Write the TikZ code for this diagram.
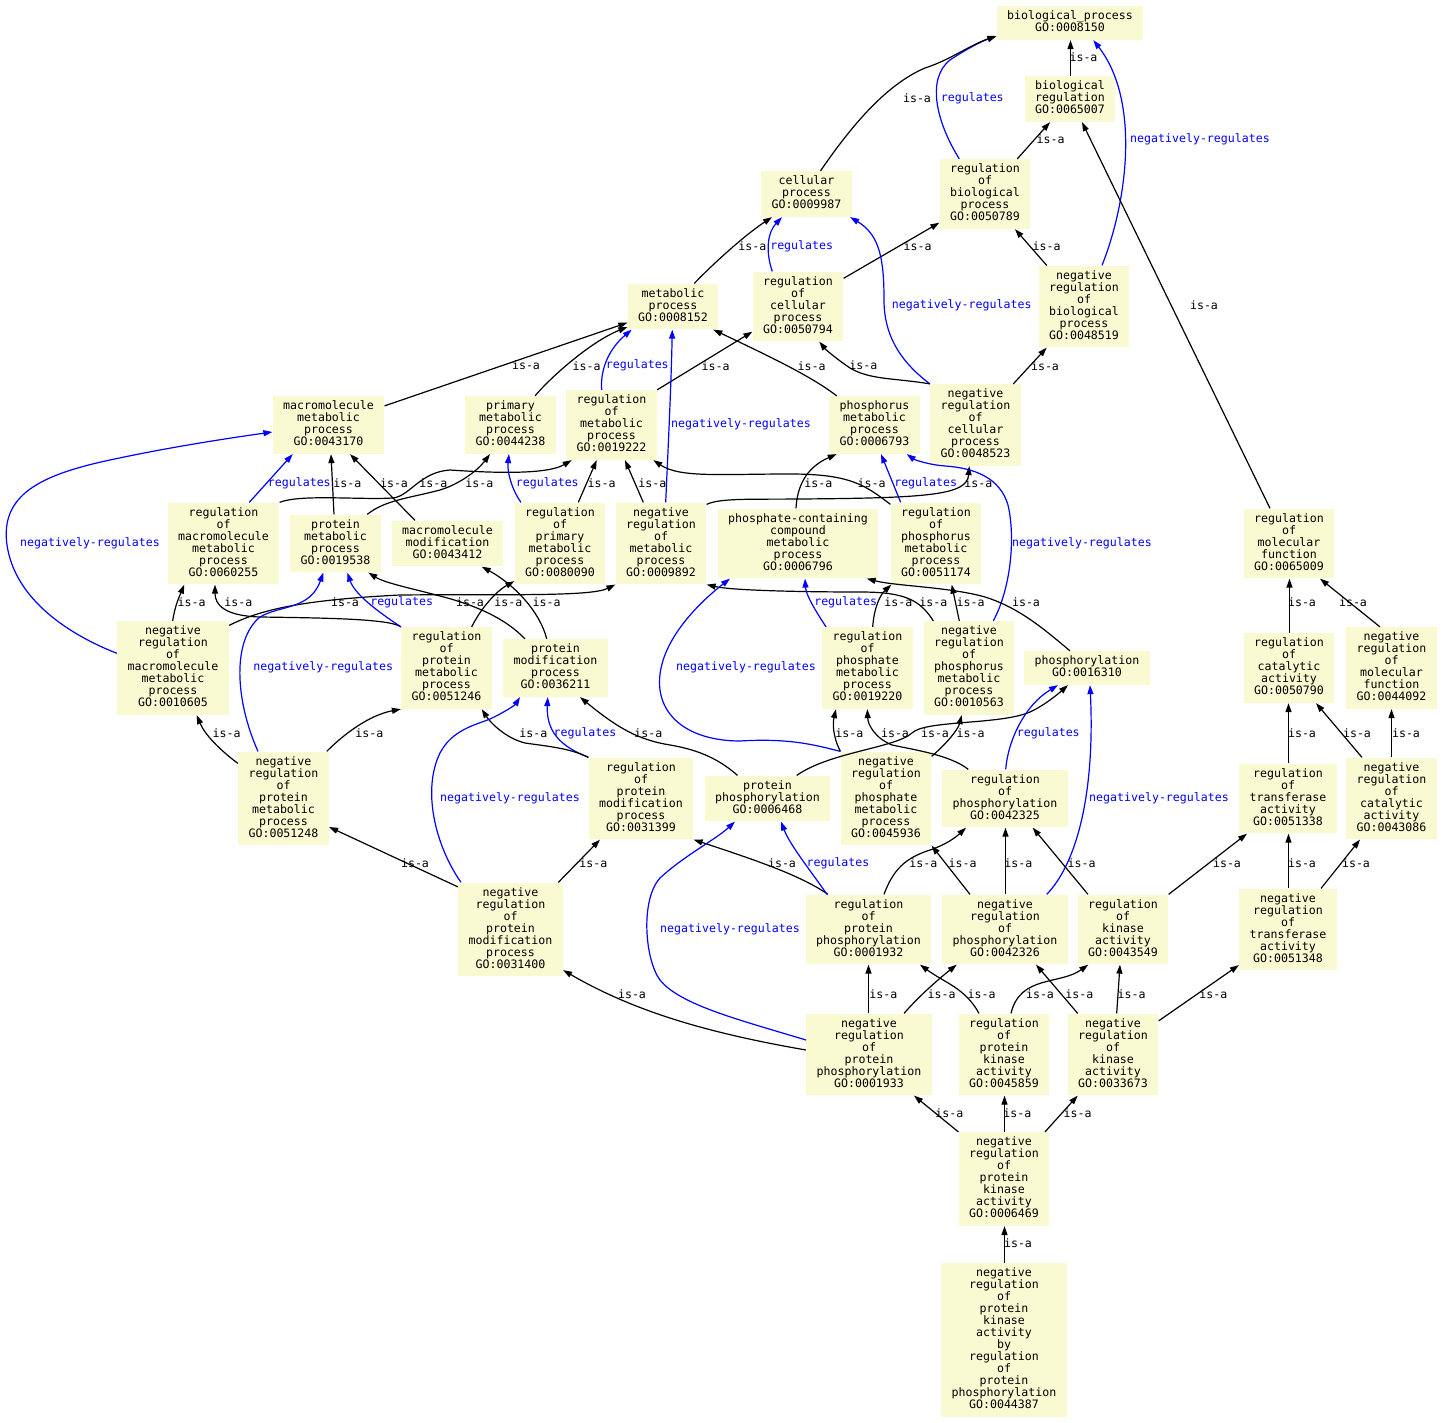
\documentclass[tikz,border=0pt]{standalone}
\usepackage{fontspec}
\usepackage{tikz}
\usetikzlibrary{arrows.meta}
\newfontfamily\gomono{DejaVu Sans Mono}
\definecolor{termyellow}{RGB}{250,250,210}
\definecolor{relblue}{RGB}{0,0,255}
\newcommand{\gostrut}{\rule[-3pt]{0pt}{12pt}}
\tikzset{
    termo/.style={fill=termyellow, align=center, font=\gomono\fontsize{11.6}{12}\selectfont,
        inner xsep=10.5pt, inner ysep=5pt, execute at begin node=\gostrut, execute at end node=\gostrut},
    isa/.style={black, line width=1.2pt, -{Triangle[length=9pt,width=6pt]}},
    regula/.style={relblue, line width=1.2pt, -{Triangle[length=9pt,width=6pt]}},
    rotulo/.style={font=\gomono\fontsize{11.6}{12}\selectfont, inner sep=0pt, text=black},
    rotuloazul/.style={rotulo, text=relblue}
}
\begin{document}
\begin{tikzpicture}[x=1pt, y=-1pt]
    \useasboundingbox (0,0) rectangle (1444,1423);
    % Termos
    \node[termo] (bp) at (1070,23) {biological\string_process\\GO:0008150};
    \node[termo] (breg) at (1070,99) {biological\\regulation\\GO:0065007};
    \node[termo] (cell) at (806.5,194) {cellular\\process\\GO:0009987};
    \node[termo] (rbp) at (985,194) {regulation\\of\\biological\\process\\GO:0050789};
    \node[termo] (met) at (673,306.5) {metabolic\\process\\GO:0008152};
    \node[termo] (rcp) at (798,306.5) {regulation\\of\\cellular\\process\\GO:0050794};
    \node[termo] (nrbp) at (1084,306.5) {negative\\regulation\\of\\biological\\process\\GO:0048519};
    \node[termo] (mmp) at (328.5,425) {macromolecule\\metabolic\\process\\GO:0043170};
    \node[termo] (pmp) at (510.5,425) {primary\\metabolic\\process\\GO:0044238};
    \node[termo] (rmp) at (611.5,425) {regulation\\of\\metabolic\\process\\GO:0019222};
    \node[termo] (phmp) at (874.5,425) {phosphorus\\metabolic\\process\\GO:0006793};
    \node[termo] (nrcp) at (975.5,425) {negative\\regulation\\of\\cellular\\process\\GO:0048523};
    \node[termo] (rmmp) at (223.5,543.5) {regulation\\of\\macromolecule\\metabolic\\process\\GO:0060255};
    \node[termo] (protmp) at (335.5,543.5) {protein\\metabolic\\process\\GO:0019538};
    \node[termo] (mmod) at (447.5,543.5) {macromolecule\\modification\\GO:0043412};
    \node[termo] (rpmp) at (560,543.5) {regulation\\of\\primary\\metabolic\\process\\GO:0080090};
    \node[termo] (nrmp) at (661,543.5) {negative\\regulation\\of\\metabolic\\process\\GO:0009892};
    \node[termo] (pcc) at (798,543.5) {phosphate-containing\\compound\\metabolic\\process\\GO:0006796};
    \node[termo] (rphmp) at (936,543.5) {regulation\\of\\phosphorus\\metabolic\\process\\GO:0051174};
    \node[termo] (rmf) at (1289,543.5) {regulation\\of\\molecular\\function\\GO:0065009};
    \node[termo] (nrmmp) at (173,668) {negative\\regulation\\of\\macromolecule\\metabolic\\process\\GO:0010605};
    \node[termo] (rprotmp) at (446.5,668) {regulation\\of\\protein\\metabolic\\process\\GO:0051246};
    \node[termo] (pmod) at (555.5,668) {protein\\modification\\process\\GO:0036211};
    \node[termo] (rphatmp) at (867.5,668) {regulation\\of\\phosphate\\metabolic\\process\\GO:0019220};
    \node[termo] (nrphmp) at (969,668) {negative\\regulation\\of\\phosphorus\\metabolic\\process\\GO:0010563};
    \node[termo] (phos) at (1087,668) {phosphorylation\\GO:0016310};
    \node[termo] (rcat) at (1289,668) {regulation\\of\\catalytic\\activity\\GO:0050790};
    \node[termo] (nrmf) at (1391.5,668) {negative\\regulation\\of\\molecular\\function\\GO:0044092};
    \node[termo] (nrprotmp) at (283.5,798.5) {negative\\regulation\\of\\protein\\metabolic\\process\\GO:0051248};
    \node[termo] (rpmod) at (641,798.5) {regulation\\of\\protein\\modification\\process\\GO:0031399};
    \node[termo] (pphos) at (767.5,798.5) {protein\\phosphorylation\\GO:0006468};
    \node[termo] (nrphatmp) at (886,798.5) {negative\\regulation\\of\\phosphate\\metabolic\\process\\GO:0045936};
    \node[termo] (rphos) at (1005,798.5) {regulation\\of\\phosphorylation\\GO:0042325};
    \node[termo] (rtrans) at (1288,798.5) {regulation\\of\\transferase\\activity\\GO:0051338};
    \node[termo] (nrcat) at (1391.5,798.5) {negative\\regulation\\of\\catalytic\\activity\\GO:0043086};
    \node[termo] (nrpmod) at (510.5,929.5) {negative\\regulation\\of\\protein\\modification\\process\\GO:0031400};
    \node[termo] (rpphos) at (868.5,929.5) {regulation\\of\\protein\\phosphorylation\\GO:0001932};
    \node[termo] (nrphos) at (1005,929.5) {negative\\regulation\\of\\phosphorylation\\GO:0042326};
    \node[termo] (rkin) at (1123,929.5) {regulation\\of\\kinase\\activity\\GO:0043549};
    \node[termo] (nrtrans) at (1288,929.5) {negative\\regulation\\of\\transferase\\activity\\GO:0051348};
    \node[termo] (nrpphos) at (869,1054.5) {negative\\regulation\\of\\protein\\phosphorylation\\GO:0001933};
    \node[termo] (rpkin) at (1004,1054.5) {regulation\\of\\protein\\kinase\\activity\\GO:0045859};
    \node[termo] (nrkin) at (1113,1054.5) {negative\\regulation\\of\\kinase\\activity\\GO:0033673};
    \node[termo] (nrpkin) at (1004,1179) {negative\\regulation\\of\\protein\\kinase\\activity\\GO:0006469};
    \node[termo] (nrpkinby) at (1004,1339.7) {negative\\regulation\\of\\protein\\kinase\\activity\\by\\regulation\\of\\protein\\phosphorylation\\GO:0044387};
    % Relacoes do topo
    \draw[isa] ([xshift=0.5pt]breg.north) -- ([xshift=0.5pt]bp.south) node[rotulo] at (1083.5,57) {is-a};
    \draw[regula] ([xshift=-25.7pt]rbp.north) .. controls (938,125) and (925,80) .. (950,60) .. controls (965,50) and (980,42) .. ([yshift=-13pt]bp.west) node[rotuloazul] at (972.3,98) {regulates};
    \draw[isa] ([xshift=14pt]cell.north) .. controls (850,128) and (885,85) .. (925,68) .. controls (950,60) and (970,45) .. ([yshift=-13pt]bp.west) node[rotulo] at (917,98) {is-a};
    \draw[regula] ([xshift=18pt]nrbp.north) .. controls (1128,200) and (1140,100) .. ([xshift=23.3pt]bp.south) node[rotuloazul] at (1200,139.3) {negatively-regulates};
    \draw[isa] ([xshift=32.3pt]rbp.north) -- ([xshift=-20pt]breg.south) node[rotulo] at (1050.7,139.3) {is-a};
    \draw[isa] ([xshift=-19pt]rmf.north) -- ([xshift=12pt]breg.south) node[rotulo] at (1204,305) {is-a};
    \draw[isa] ([xshift=-37.3pt]nrbp.north) -- ([xshift=30pt]rbp.south) node[rotulo] at (1046.7,246) {is-a};
    \draw[isa] ([xshift=21.3pt]met.north) .. controls (715,262) and (745,235) .. ([xshift=-34.5pt]cell.south) node[rotulo] at (752.3,246) {is-a};
    \draw[regula] ([xshift=-25.7pt]rcp.north) .. controls (765,250) and (768,232) .. ([xshift=-24.5pt]cell.south) node[rotuloazul] at (801.7,246) {regulates};
    \draw[isa] ([yshift=28.2pt]rcp.east) -- ([yshift=-28.7pt]rbp.west) node[rotulo] at (917.7,246) {is-a};
    \draw[regula] (nrcp.north west) .. controls (905,365) and (884,340) .. (884,300) .. controls (884,260) and (880,235) .. ([xshift=-2pt]cell.south east) node[rotuloazul] at (961.7,305) {negatively-regulates};
    \draw[isa] (nrcp.north west) .. controls (895,378) and (870,380) .. (850,368) .. controls (838,360) and (826,350) .. ([xshift=21.3pt]rcp.south) node[rotulo] at (863.3,365) {is-a};
    \draw[isa] ([xshift=37.8pt]nrcp.north) -- ([xshift=-37.3pt]nrbp.south) node[rotulo] at (1045,365.7) {is-a};
    % Processos metabolicos
    \draw[isa] ([yshift=-10pt]mmp.north east) -- ([yshift=-16.2pt]met.west) node[rotulo] at (526,365) {is-a};
    \draw[isa] ([xshift=24.5pt]pmp.north) .. controls (550,378) and (590,342) .. ([yshift=-20.5pt]met.west) node[rotulo] at (586.7,365.7) {is-a};
    \draw[regula] ([xshift=-9.8pt]rmp.north) .. controls (600,368) and (610,348) .. ([xshift=-41.3pt]met.south) node[rotuloazul] at (637.3,365.7) {regulates};
    \draw[isa] (rmp.north east) -- ([yshift=-25.2pt]rcp.west) node[rotulo] at (715.7,365.7) {is-a};
    \draw[isa] ([xshift=-37.8pt]phmp.north) .. controls (810,375) and (760,352) .. ([xshift=40.3pt]met.south) node[rotulo] at (811.7,365.7) {is-a};
    \draw[regula] ([xshift=4.7pt]nrmp.north) .. controls (668,450) and (671,390) .. ([xshift=-0.7pt]met.south) node[rotuloazul] at (741,424) {negatively-regulates};
    \draw[regula] ([xshift=25.8pt]rmmp.north) -- ([xshift=-35.8pt]mmp.south) node[rotuloazul] at (299.3,483.3) {regulates};
    \draw[isa] ([xshift=-1.5pt]protmp.north) -- ([xshift=2.5pt]mmp.south) node[rotulo] at (347.3,483.3) {is-a};
    \draw[isa] ([xshift=-32.5pt]mmod.north) -- ([xshift=21.5pt]mmp.south) node[rotulo] at (394,483.3) {is-a};
    \draw[isa] (rmmp.north east) .. controls (300,494) and (360,500) .. (393,498) .. controls (410,496) and (420,472) .. (450,470) .. controls (480,472) and (545,476) .. ([xshift=-39.8pt]rmp.south) node[rotulo] at (433.3,483.3) {is-a};
    \draw[isa] ([xshift=31.8pt]protmp.north) .. controls (385,500) and (410,498) .. (440,490) .. controls (460,484) and (478,470) .. ([xshift=-20.5pt]pmp.south) node[rotulo] at (479.3,483.3) {is-a};
    \draw[regula] ([xshift=-39pt]rpmp.north) .. controls (512,490) and (507,472) .. ([xshift=-1.5pt]pmp.south) node[rotuloazul] at (547.3,483.3) {regulates};
    \draw[isa] ([xshift=18.3pt]rpmp.north) -- ([xshift=-14.8pt]rmp.south) node[rotulo] at (601.7,483.3) {is-a};
    \draw[isa] ([xshift=-17.7pt]nrmp.north) -- ([xshift=13.5pt]rmp.south) node[rotulo] at (652.3,483.3) {is-a};
    \draw[isa] ([xshift=-2pt]pcc.north) .. controls (797,488) and (805,468) .. ([xshift=-37.8pt]phmp.south) node[rotulo] at (818.3,483.3) {is-a};
    \draw[regula] ([xshift=-35.3pt]rphmp.north) -- ([xshift=6.5pt]phmp.south) node[rotuloazul] at (925.7,483.3) {regulates};
    \draw[isa] ([yshift=-2pt]rphmp.north west) .. controls (865,485) and (850,474) .. (790,474) .. controls (720,474) and (680,478) .. ([xshift=41.8pt]rmp.south) node[rotulo] at (871.7,483.3) {is-a};
    \draw[isa] ([yshift=-2pt]nrmp.north east) .. controls (720,498) and (750,499.5) .. (800,499) .. controls (930,498) and (967,495) .. ([xshift=-6.2pt]nrcp.south) node[rotulo] at (978.3,483.3) {is-a};
    \draw[regula] ([xshift=24.3pt]nrphmp.north) .. controls (1010,590) and (1016,540) .. (1008,505) .. controls (1000,478) and (975,468) .. (945,466) .. controls (930,465) and (915,460) .. ([xshift=32.2pt]phmp.south) node[rotuloazul] at (1082,543) {negatively-regulates};
    \draw[isa] ([xshift=0.5pt]rcat.north) -- ([xshift=0.5pt]rmf.south) node[rotulo] at (1302,602) {is-a};
    \draw[isa] ([xshift=-11.5pt]nrmf.north) -- ([xshift=31pt]rmf.south) node[rotulo] at (1353,602) {is-a};
    % Macromoleculas e proteinas
    \draw[isa] ([xshift=-0.3pt]nrmmp.north) .. controls (175,605) and (180,595) .. ([xshift=-39.2pt]rmmp.south) node[rotulo] at (191.7,602.3) {is-a};
    \draw[regula] ([yshift=14.7pt]nrmmp.west) .. controls (70,635) and (15,600) .. (7,545) .. controls (0,495) and (40,475) .. (110,460) .. controls (170,447) and (230,438) .. ([yshift=-7pt]mmp.west) node[rotuloazul] at (90,543.3) {negatively-regulates};
    \draw[isa] ([yshift=-4.5pt]nrmmp.north east) .. controls (260,610) and (300,600) .. (400,595) .. controls (500,594) and (590,597) .. (nrmp.south west) node[rotulo] at (345,602.3) {is-a};
    \draw[isa] (rprotmp.north west) .. controls (390,619) and (330,618) .. (260,617) .. controls (225,616) and (215,605) .. ([xshift=-8.5pt]rmmp.south) node[rotulo] at (238.3,602.3) {is-a};
    \draw[regula] (rprotmp.north west) .. controls (380,613) and (355,595) .. ([xshift=11.8pt]protmp.south) node[rotuloazul] at (401.7,602.3) {regulates};
    \draw[isa] ([xshift=-30.5pt]pmod.north) .. controls (505,618) and (475,605) .. (440,596) .. controls (410,588) and (385,583) .. ([xshift=32.8pt]protmp.south) node[rotulo] at (470,602.3) {is-a};
    \draw[isa] ([xshift=-8.8pt]pmod.north) .. controls (540,612) and (515,585) .. ([xshift=34.2pt]mmod.south) node[rotulo] at (546.7,602.3) {is-a};
    \draw[isa] ([xshift=25.2pt]rprotmp.north) .. controls (480,610) and (495,592) .. ([yshift=3.5pt]rpmp.south west) node[rotulo] at (508.3,602.3) {is-a};
    \draw[regula] ([xshift=-25.5pt]nrprotmp.north) .. controls (235,700) and (232,640) .. (260,617) .. controls (280,605) and (310,610) .. ([xshift=-12.2pt]protmp.south) node[rotuloazul] at (323.3,667.3) {negatively-regulates};
    \draw[isa] ([yshift=-12pt]nrprotmp.north west) .. controls (220,750) and (205,735) .. ([xshift=23.7pt]nrmmp.south) node[rotulo] at (226.7,733.3) {is-a};
    \draw[isa] ([xshift=43.2pt]nrprotmp.north) .. controls (345,733) and (370,715) .. (rprotmp.south west) node[rotulo] at (369.3,733.3) {is-a};
    % Fosfato e fosforo
    \draw[isa] ([xshift=-35.7pt]nrphmp.north) .. controls (920,600) and (905,592) .. (860,592) .. controls (790,592) and (730,590) .. (nrmp.south east) node[rotulo] at (933.3,602.3) {is-a};
    \draw[regula] ([xshift=-41.5pt]rphatmp.north) .. controls (815,610) and (806,595) .. ([xshift=7pt]pcc.south) node[rotuloazul] at (845.7,602.3) {regulates};
    \draw[isa] ([xshift=5.2pt]rphatmp.north) .. controls (874,608) and (880,595) .. ([xshift=1pt]rphmp.south west) node[rotulo] at (898.3,602.3) {is-a};
    \draw[isa] ([xshift=-9.7pt]nrphmp.north) -- ([xshift=15.7pt]rphmp.south) node[rotulo] at (970.7,602.3) {is-a};
    \draw[isa] ([xshift=-17pt]phos.north) .. controls (1045,630) and (1020,608) .. (985,597) .. controls (950,587) and (895,586) .. ([xshift=68.7pt]pcc.south) node[rotulo] at (1026,602) {is-a};
    \draw[regula] (nrphatmp.north west) .. controls (815,745) and (790,738) .. (740,741) .. controls (700,741) and (665,725) .. (660,690) .. controls (655,650) and (690,610) .. ([xshift=12.5pt]pcc.south west) node[rotuloazul] at (746,667) {negatively-regulates};
    \draw[isa] (nrphatmp.north west) .. controls (832,735) and (833,722) .. ([xshift=-31.5pt]rphatmp.south) node[rotulo] at (849.3,733.3) {is-a};
    \draw[isa] ([xshift=-36.7pt]rphos.north) .. controls (950,755) and (915,750) .. (892,745) .. controls (875,738) and (868,725) .. ([xshift=-0.2pt]rphatmp.south) node[rotulo] at (895,733.3) {is-a};
    \draw[isa] ([xshift=29.2pt]pphos.north) .. controls (830,752) and (895,748) .. (912,733) .. controls (925,720) and (1000,725) .. (1030,712) .. controls (1045,705) and (1058,694) .. ([xshift=-19pt]phos.south) node[rotulo] at (935,733.3) {is-a};
    \draw[isa] ([yshift=-5pt]nrphatmp.north east) .. controls (945,745) and (958,730) .. ([xshift=-7.3pt]nrphmp.south) node[rotulo] at (970.7,733.3) {is-a};
    \draw[regula] ([xshift=0.7pt]rphos.north) .. controls (1008,740) and (1025,705) .. ([xshift=-29pt]phos.south) node[rotuloazul] at (1048.3,733.3) {regulates};
    \draw[regula] ([xshift=41.7pt]nrphos.north) .. controls (1078,862) and (1095,790) .. ([xshift=3pt]phos.south) node[rotuloazul] at (1159,798) {negatively-regulates};
    % Modificacao de proteinas
    \draw[regula] (rpmod.north west) .. controls (565,748) and (546,735) .. ([xshift=-7.8pt]pmod.south) node[rotuloazul] at (585,733.3) {regulates};
    \draw[isa] (rpmod.north west) .. controls (570,748) and (545,746) .. (525,743) .. controls (505,738) and (490,722) .. ([xshift=35.2pt]rprotmp.south) node[rotulo] at (533.3,733.3) {is-a};
    \draw[isa] ([xshift=-30pt]pphos.north) .. controls (720,760) and (700,750) .. (670,745) .. controls (640,740) and (620,730) .. ([xshift=24.5pt]pmod.south) node[rotulo] at (648.3,733.3) {is-a};
    \draw[regula] ([xshift=-49.5pt]nrpmod.north) .. controls (435,845) and (422,790) .. (440,753) .. controls (452,730) and (475,725) .. (490,719) .. controls (505,712) and (515,705) .. ([xshift=-35.5pt]pmod.south) node[rotuloazul] at (510,798.3) {negatively-regulates};
    \draw[isa] ([yshift=-4.5pt]nrpmod.north west) -- ([yshift=-28.5pt]nrprotmp.east) node[rotulo] at (415,863.3) {is-a};
    \draw[isa] ([xshift=47.8pt]nrpmod.north) -- ([xshift=-41pt]rpmod.south) node[rotulo] at (593.3,863.3) {is-a};
    % Atividade catalitica
    \draw[isa] ([xshift=0.5pt]rtrans.north) -- ([xshift=-0.5pt]rcat.south) node[rotulo] at (1302,733) {is-a};
    \draw[isa] ([xshift=-29.5pt]nrcat.north) -- ([xshift=27pt]rcat.south) node[rotulo] at (1357,733) {is-a};
    \draw[isa] (nrcat) -- (nrmf) node[rotulo] at (1406,733) {is-a};
    % Fosforilacao
    \draw[isa] ([xshift=-40.5pt]rpphos.north) .. controls (800,875) and (755,860) .. (rpmod.south east) node[rotulo] at (782,863) {is-a};
    \draw[regula] ([xshift=-41.5pt]rpphos.north) .. controls (810,870) and (790,845) .. ([xshift=13.5pt]pphos.south) node[rotuloazul] at (838,863) {regulates};
    \draw[isa] ([xshift=15.5pt]rpphos.north) .. controls (893,870) and (905,858) .. (930,850) .. controls (945,845) and (955,838) .. ([xshift=-39pt]rphos.south) node[rotulo] at (923.3,863.3) {is-a};
    \draw[isa] ([xshift=-35pt]nrphos.north) -- (nrphatmp.south east) node[rotulo] at (962.7,863.3) {is-a};
    \draw[isa] ([xshift=0.5pt]nrphos.north) -- ([xshift=0.5pt]rphos.south) node[rotulo] at (1018.3,863.3) {is-a};
    \draw[isa] ([xshift=-35pt]rkin.north) -- ([xshift=27.7pt]rphos.south) node[rotulo] at (1081.7,863.3) {is-a};
    \draw[isa] (rkin.north east) -- ([xshift=-41pt]rtrans.south) node[rotulo] at (1227,863) {is-a};
    \draw[isa] ([xshift=0.5pt]nrtrans.north) -- ([xshift=0.5pt]rtrans.south) node[rotulo] at (1302,863) {is-a};
    \draw[isa] ([xshift=33pt]nrtrans.north) -- ([xshift=-31.5pt]nrcat.south) node[rotulo] at (1356,863) {is-a};
    % Quinases
    \draw[isa] ([yshift=4.5pt]nrpphos.west) .. controls (720,1035) and (640,1015) .. ([yshift=6.5pt]nrpmod.south east) node[rotulo] at (632,994) {is-a};
    \draw[regula] ([yshift=14.5pt]nrpphos.west) .. controls (740,1020) and (680,1005) .. (660,980) .. controls (645,960) and (640,900) .. (660,878) .. controls (685,855) and (715,840) .. ([xshift=-32.5pt]pphos.south) node[rotuloazul] at (730,929) {negatively-regulates};
    \draw[isa] ([xshift=-0.5pt]nrpphos.north) -- (rpphos.south) node[rotulo] at (883.3,994.3) {is-a};
    \draw[isa] ([xshift=35pt]nrpphos.north) .. controls (920,995) and (940,978) .. ([xshift=-48.3pt]nrphos.south) node[rotulo] at (941.7,994.3) {is-a};
    \draw[isa] ([xshift=-25pt]rpkin.north) .. controls (965,988) and (945,983) .. ([xshift=51.5pt]rpphos.south) node[rotulo] at (981.7,994.3) {is-a};
    \draw[isa] ([xshift=7pt]rpkin.north) .. controls (1020,975) and (1060,985) .. ([xshift=-34.7pt]rkin.south) node[rotulo] at (1040,994.3) {is-a};
    \draw[isa] ([xshift=-35.3pt]nrkin.north) -- ([xshift=31pt]nrphos.south) node[rotulo] at (1079.3,994.3) {is-a};
    \draw[isa] ([xshift=3.7pt]nrkin.north) -- ([xshift=-3pt]rkin.south) node[rotulo] at (1131.7,994.3) {is-a};
    \draw[isa] ([yshift=-7.5pt]nrkin.north east) -- ([yshift=5.5pt]nrtrans.south west) node[rotulo] at (1213.3,994.3) {is-a};
    \draw[isa] (nrpkin.north west) -- ([xshift=45pt]nrpphos.south) node[rotulo] at (949.3,1113.3) {is-a};
    \draw[isa] ([xshift=0.5pt]nrpkin.north) -- ([xshift=0.5pt]rpkin.south) node[rotulo] at (1017.3,1113.3) {is-a};
    \draw[isa] ([xshift=41pt]nrpkin.north) -- ([xshift=-35.3pt]nrkin.south) node[rotulo] at (1077.7,1113.3) {is-a};
    \draw[isa] ([xshift=0.5pt]nrpkinby.north) -- ([xshift=0.5pt]nrpkin.south) node[rotulo] at (1018,1243) {is-a};
\end{tikzpicture}
\end{document}
